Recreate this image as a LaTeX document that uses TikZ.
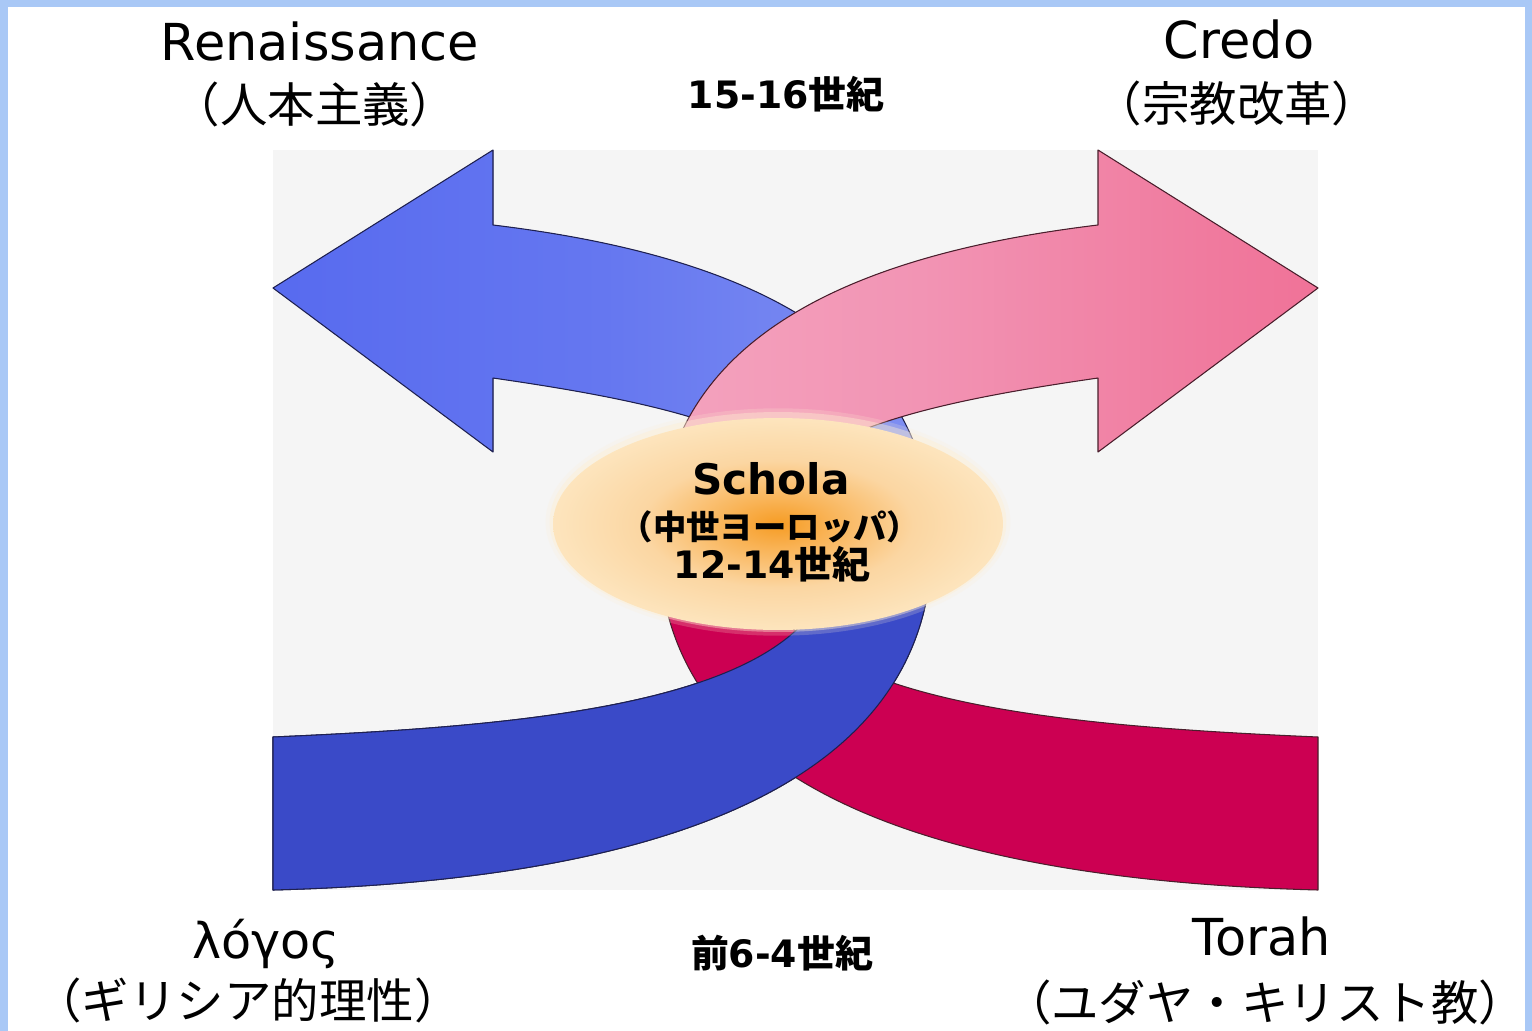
\documentclass[tikz,border=0pt]{standalone}
\usepackage{fontspec}
\newfontfamily\jp{Noto Sans CJK JP}
\newfontfamily\dv{DejaVu Sans}
\usetikzlibrary{shapes.geometric}

\definecolor{framecol}{HTML}{A9C8F6}
\definecolor{panel}{HTML}{F5F5F5}
\definecolor{bA}{HTML}{4A5EEE}
\definecolor{bB}{HTML}{6577F0}
\definecolor{bC}{HTML}{8393F2}
\definecolor{bD}{HTML}{B5C0F7}
\definecolor{bluedark}{HTML}{3A4AC8}
\definecolor{blueedge}{HTML}{1E2050}
\definecolor{pA}{HTML}{F6BDD0}
\definecolor{pB}{HTML}{F4A6C0}
\definecolor{pC}{HTML}{F294B4}
\definecolor{pD}{HTML}{F07A9E}
\definecolor{pE}{HTML}{EE5A85}
\definecolor{reddark}{HTML}{CC0052}
\definecolor{pinkedge}{HTML}{4A1E2C}
\definecolor{g1}{HTML}{F69C24}
\definecolor{g2}{HTML}{F9B458}
\definecolor{g3}{HTML}{FBD6A2}
\definecolor{g4}{HTML}{FDE6C0}
\definecolor{g5}{HTML}{FEEFD2}

\pgfdeclarehorizontalshading{blueup}{100bp}{color(0bp)=(bA); color(50bp)=(bB); color(78bp)=(bC); color(100bp)=(bD)}
\pgfdeclarehorizontalshading{pinkup}{100bp}{color(0bp)=(pA); color(21bp)=(pB); color(45bp)=(pC); color(67bp)=(pD); color(100bp)=(pE)}
\pgfdeclareradialshading{scholaglow}{\pgfpoint{0bp}{0bp}}{color(0bp)=(g1); color(6bp)=(g2); color(15bp)=(g3); color(26bp)=(g4); color(45bp)=(g5); color(60bp)=(g5)}

\def\BluePath{(273,890) -- (273,737) .. controls (550,725) and (835,700) .. (835,545) .. controls (835,440) and (680,405) .. (493,378) -- (493,452) -- (273,288) -- (493,150) -- (493,225) .. controls (700,250) and (935,320) .. (932,545) .. controls (930,790) and (650,880) .. (273,890) -- cycle}
\def\PinkPath{(1318,890) -- (1318,737) .. controls (1041,725) and (756,700) .. (756,545) .. controls (756,440) and (911,405) .. (1098,378) -- (1098,452) -- (1318,288) -- (1098,150) -- (1098,225) .. controls (891,250) and (656,320) .. (659,545) .. controls (661,790) and (941,880) .. (1318,890) -- cycle}

\tikzset{
  bandedge/.style={draw=#1, line width=0.6pt, line join=round},
  latinlbl/.style={font=\dv\fontsize{29}{34}\selectfont, inner sep=0pt, anchor=base},
  greeklbl/.style={font=\dv\fontsize{28}{33}\selectfont, inner sep=0pt, anchor=base},
  jplbl/.style={font=\jp\fontsize{27}{32}\selectfont, inner sep=0pt, anchor=base},
  eralbl/.style={font=\jp\bfseries\fontsize{21.5}{26}\selectfont, inner sep=0pt, anchor=base},
  scholalbl/.style={font=\dv\bfseries\fontsize{24}{29}\selectfont, inner sep=0pt, anchor=base},
  midlbl/.style={font=\jp\bfseries\fontsize{19}{23}\selectfont, inner sep=0pt, anchor=base},
  glowring/.style={ellipse, inner sep=0pt, fill=g5}
}

\begin{document}
\begin{tikzpicture}[x=0.02cm,y=-0.02cm]
\useasboundingbox (0,0) rectangle (1532,1031);
\fill[framecol] (0,0) rectangle (1532,1031);
\fill[white] (8,7) rectangle (1525,1031);
\fill[panel] (273,150) rectangle (1318,890);

% blue loop (first pass)
\begin{scope}
  \clip (0,0) rectangle (1532,522);
  \fill[shading=blueup] \BluePath;
\end{scope}
\begin{scope}
  \clip (0,522) rectangle (1532,1031);
  \fill[bluedark] \BluePath;
\end{scope}
\draw[bandedge=blueedge] \BluePath;

% pink / red loop
\begin{scope}
  \clip (0,0) rectangle (1532,522);
  \fill[shading=pinkup] \PinkPath;
\end{scope}
\begin{scope}
  \clip (0,522) rectangle (1532,1031);
  \fill[reddark] \PinkPath;
\end{scope}
\draw[bandedge=pinkedge] \PinkPath;

% blue lower band over red
\begin{scope}
  \clip (0,522) rectangle (1532,1031);
  \fill[bluedark] \BluePath;
  \draw[bandedge=blueedge] \BluePath;
\end{scope}

% central ellipse with soft edge
\node[glowring, opacity=0.2, minimum width=9.3cm, minimum height=4.55cm] (halo1) at (778,522) {};
\node[glowring, opacity=0.4, minimum width=9.14cm, minimum height=4.4cm] (halo2) at (778,522) {};
\node[ellipse, inner sep=0pt, minimum width=9cm, minimum height=4.24cm, shading=scholaglow] (ell) at (778,524) {};

% texts
\node[latinlbl] (ren) at (320,60) {Renaissance};
\node[jplbl] (renj) at (315,122) {（人本主義）};
\node[latinlbl] (cre) at (1239,58) {Credo};
\node[jplbl] (crej) at (1237,121) {（宗教改革）};
\node[eralbl] (era1) at (786,108) {{\dv\bfseries 15-16}世紀};

\node[scholalbl] (sch) at (771,494) {Schola};
\node[midlbl] (schj) at (770,539) {（中世ヨーロッパ）};
\node[eralbl] (era2) at (772,578) {{\dv\bfseries 12-14}世紀};

\node[greeklbl] (log) at (266,958) {λόγος};
\node[jplbl] (logj) at (248,1018) {（ギリシア的理性）};
\node[eralbl] (era3) at (782,967) {前{\dv\bfseries 6-4}世紀};
\node[latinlbl] (tor) at (1262,955) {Torah};
\node[jplbl] (torj) at (1265,1020) {（ユダヤ・キリスト教）};
\end{tikzpicture}
\end{document}
